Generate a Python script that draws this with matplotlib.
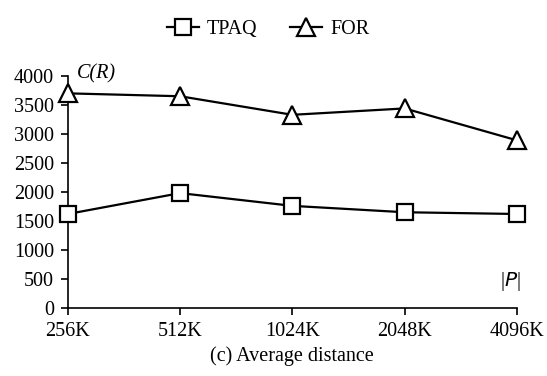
import matplotlib
matplotlib.use("Agg")
import matplotlib.pyplot as plt

categories = ["256K", "512K", "1024K", "2048K", "4096K"]
tpaq = [1620, 1980, 1760, 1650, 1620]
for_vals = [3700, 3650, 3330, 3440, 2890]
yticks = [0, 500, 1000, 1500, 2000, 2500, 3000, 3500, 4000]

plt.rcParams['font.family'] = ['Liberation Serif', 'DejaVu Serif']
fs = 14.5
fig = plt.figure(figsize=(5.47, 3.76), dpi=100)
ax = fig.add_axes([0.124, 0.181, 0.821, 0.617])
x = list(range(len(categories)))
ax.plot(x, tpaq, color='black', lw=1.6, marker='s', ms=12, mfc='white', mew=1.6,
        clip_on=False, label='TPAQ', zorder=3)
ax.plot(x, for_vals, color='black', lw=1.6, marker='^', ms=13, mfc='white', mew=1.6,
        clip_on=False, label='FOR', zorder=3)
ax.set_xlim(0, len(categories) - 1)
ax.set_ylim(0, 4000)
ax.set_xticks(x)
ax.set_xticklabels(categories)
ax.set_yticks(yticks)
for s in ['top', 'right']:
    ax.spines[s].set_visible(False)
for s in ['left', 'bottom']:
    ax.spines[s].set_linewidth(1.2)
ax.tick_params(direction='out', length=5, width=1.2, labelsize=fs)
ax.tick_params(axis='y', pad=5)
ax.tick_params(axis='x', pad=5)
ax.text(0.02, 1.01, 'C(R)', transform=ax.transAxes, fontsize=fs, style='italic',
        va='center', ha='left')
ax.text(0.985, 0.116, r'|$\mathit{P}$|', transform=ax.transAxes, fontsize=fs,
        va='center', ha='center')
ax.set_xlabel('(c) Average distance', fontsize=fs, labelpad=4)
fig.legend(loc='upper center', bbox_to_anchor=(0.49, 0.995), ncol=2, frameon=False,
           fontsize=fs, handlelength=1.6, columnspacing=1.6, handletextpad=0.4)
fig.savefig('out.png', dpi=100)
